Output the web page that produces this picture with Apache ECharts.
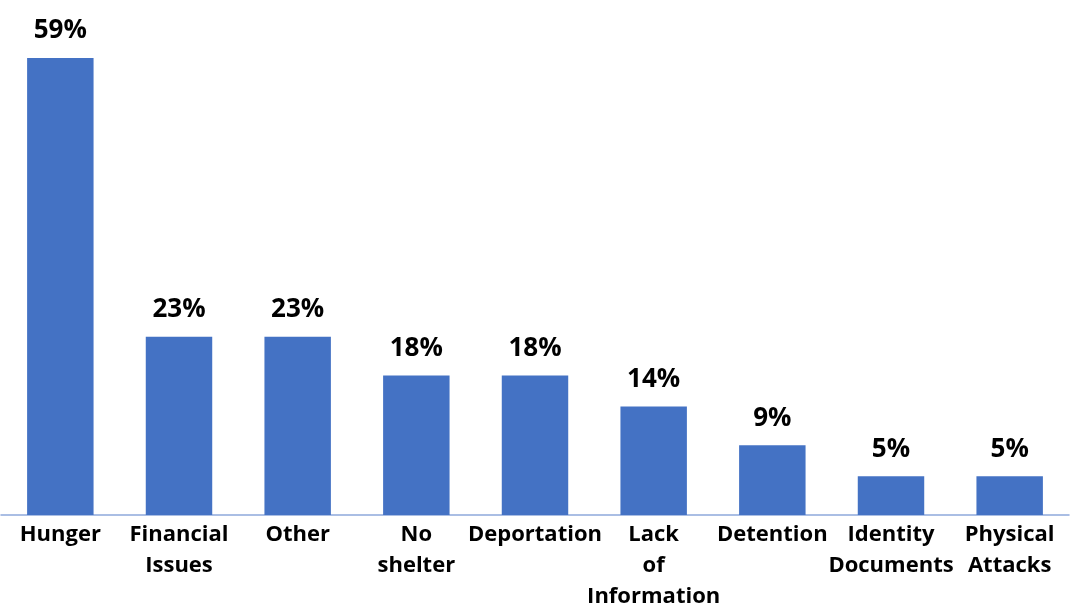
<!DOCTYPE html>
<html>
<head>
<meta charset="utf-8">
<script src="https://cdn.jsdelivr.net/npm/echarts@6/dist/echarts.min.js"></script>
<style>
  html, body { margin: 0; padding: 0; background: #fff; }
  #chart { width: 1080px; height: 607px; }
</style>
</head>
<body>
<div id="chart"></div>
<script>
// Reported challenges (% of respondents)
const categories = [
  'Hunger', 'Financial\nIssues', 'Other', 'No\nshelter', 'Deportation',
  'Lack\nof\nInformation', 'Detention', 'Identity\nDocuments', 'Physical\nAttacks'
];
const values = [59, 23, 23, 18, 18, 14, 9, 5, 5];

const chart = echarts.init(document.getElementById('chart'));
chart.setOption({
  animation: false,
  grid: { left: 1, right: 11, top: 58, bottom: 92, containLabel: false, outerBoundsMode: 'none' },
  xAxis: {
    type: 'category',
    data: categories,
    axisLine: { lineStyle: { color: '#8EA9DB', width: 1.5 } },
    axisTick: { show: false },
    axisLabel: {
      interval: 0,
      margin: 4,
      fontFamily: '"Open Sans", sans-serif',
      fontWeight: 'bold',
      fontSize: 22,
      lineHeight: 31,
      color: '#000'
    }
  },
  yAxis: {
    type: 'value',
    min: 0,
    max: 59,
    show: false,
    splitLine: { show: false }
  },
  series: [{
    type: 'bar',
    data: values,
    barCategoryGap: '44%',
    itemStyle: { color: '#4472C4' },
    label: {
      show: true,
      position: 'top',
      distance: 14,
      formatter: '{c}%',
      fontFamily: '"Open Sans", sans-serif',
      fontWeight: 'bold',
      fontSize: 26,
      color: '#000'
    }
  }]
});
</script>
</body>
</html>
